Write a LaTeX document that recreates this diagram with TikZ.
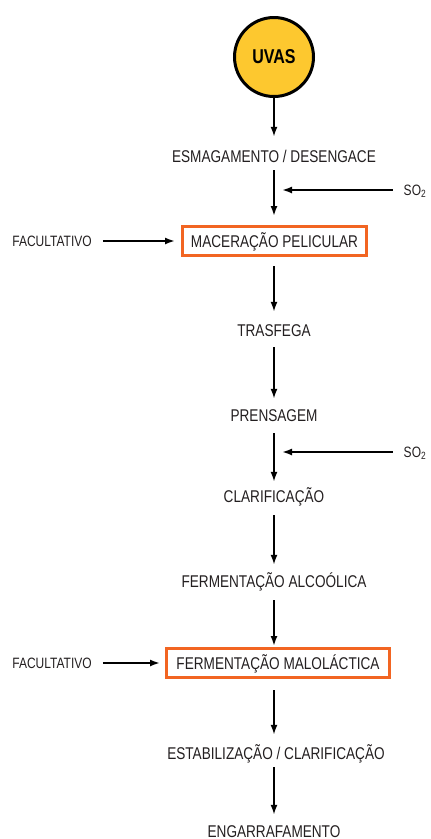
\documentclass[tikz,border=0pt]{standalone}
\usepackage{fontspec}
\setmainfont[FakeStretch=0.8]{Liberation Sans}
\usetikzlibrary{arrows.meta}
\definecolor{uvayellow}{HTML}{FDC82F}
\definecolor{boxorange}{HTML}{F26522}
\definecolor{inkgray}{HTML}{231F20}
\tikzset{
    stage/.style={inner sep=0pt, text height=12pt, text depth=0pt, text=inkgray, font=\fontsize{17}{17}\selectfont},
    optbox/.style={stage, draw=boxorange, line width=3pt, minimum height=29pt},
    side/.style={inner sep=0pt, text height=11pt, text depth=0pt, text=inkgray, font=\fontsize{15}{15}\selectfont},
    flow/.style={-{Latex[length=10pt,width=7pt]}, line width=1.8pt},
}
\begin{document}
\begin{tikzpicture}[x=1pt,y=-1pt]
    \useasboundingbox (0,0) rectangle (431,839);
    \coordinate (spine) at (274,0);
    
    \node[circle, draw, line width=3pt, fill=uvayellow, minimum size=79pt, inner sep=0pt, font=\fontsize{20}{20}\selectfont\bfseries] (uvas) at (274,57) {UVAS};
    
    \node[stage] (esm) at (274,156) {ESMAGAMENTO / DESENGACE};
    \node[optbox, minimum width=184pt] (mac) at (274.5,241) {MACERAÇÃO PELICULAR};
    \node[stage] (trf) at (274,330) {TRASFEGA};
    \node[stage] (prn) at (274,415) {PRENSAGEM};
    \node[stage] (clr) at (274,496) {CLARIFICAÇÃO};
    \node[stage] (alc) at (274,581) {FERMENTAÇÃO ALCOÓLICA};
    \node[optbox, minimum width=223pt] (mal) at (278,663) {FERMENTAÇÃO MALOLÁCTICA};
    \node[stage] (est) at (276,753) {ESTABILIZAÇÃO / CLARIFICAÇÃO};
    \node[stage] (eng) at (274,831) {ENGARRAFAMENTO};
    
    % entradas laterais
    \node[side] (so2a) at (415,190) {SO\textsubscript{2}};
    \node[side] (so2b) at (415,452) {SO\textsubscript{2}};
    \node[side] (fac1) at (52,241) {FACULTATIVO};
    \node[side] (fac2) at (52,663) {FACULTATIVO};
    \coordinate (in1) at (282,190);
    \coordinate (in2) at (282,452);
    
    \draw[flow, shorten >=13pt] (uvas.south) -- (esm.north);
    \draw[flow, shorten <=8pt, shorten >=9pt] (esm.south) -- (mac.north -| spine);
    \draw[flow, shorten <=9pt, shorten >=12pt] (mac.south -| spine) -- (trf.north);
    \draw[flow, shorten <=11pt, shorten >=10pt] (trf.south) -- (prn.north);
    \draw[flow, shorten <=12pt, shorten >=8pt] (prn.south) -- (clr.north);
    \draw[flow, shorten <=13pt, shorten >=10pt] (clr.south) -- (alc.north);
    \draw[flow, shorten <=13pt, shorten >=1pt] (alc.south) -- (mal.north -| spine);
    \draw[flow, shorten <=11pt, shorten >=12pt] (mal.south -| spine) -- (est.north -| spine);
    \draw[flow, shorten <=8pt, shorten >=10pt] (est.south -| spine) -- (eng.north);
    
    \draw[flow, shorten <=11pt] (so2a.west) -- (in1);
    \draw[flow, shorten <=11pt] (so2b.west) -- (in2);
    \draw[flow, shorten <=11pt, shorten >=6pt] (fac1.east) -- (mac.west);
    \draw[flow, shorten <=11pt, shorten >=5pt] (fac2.east) -- (mal.west);
\end{tikzpicture}
\end{document}
